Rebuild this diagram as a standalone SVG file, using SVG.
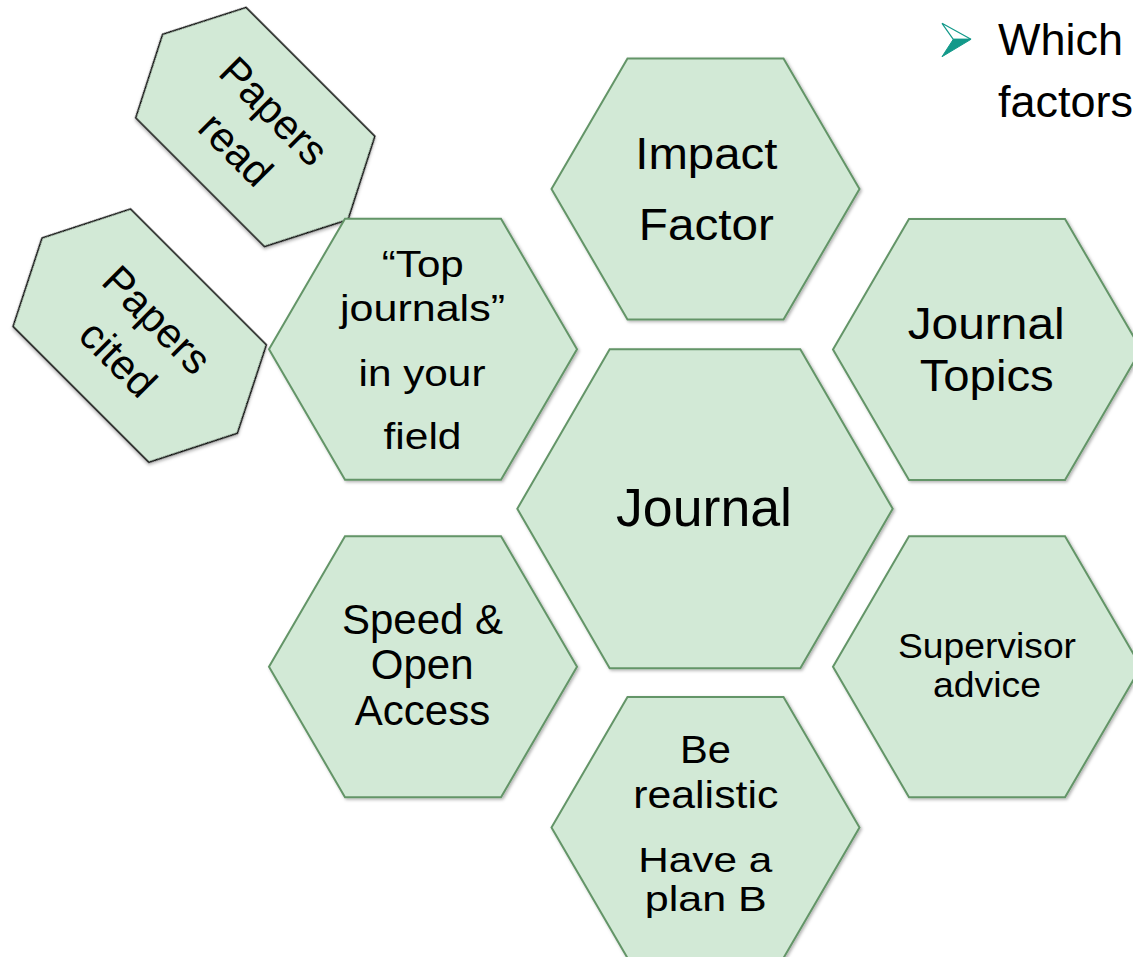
<svg xmlns="http://www.w3.org/2000/svg" width="1133" height="957" viewBox="0 0 1133 957">
  <defs>
    <filter id="sh" x="-10%" y="-10%" width="120%" height="120%">
      <feDropShadow dx="1.5" dy="1.5" stdDeviation="1.5" flood-color="#000" flood-opacity="0.3"/>
    </filter>
  </defs>
  <style>
    .hex { fill: #D2E9D6; stroke: #649568; stroke-width: 2; filter: url(#sh); }
    .ph { fill: #D2E9D6; stroke: #000; stroke-width: 1.6; filter: url(#sh); }
    .t { font-family: "Liberation Sans", Arial, sans-serif; fill: #000; text-anchor: middle; }
    .bul { font-family: "Liberation Sans", Arial, sans-serif; fill: #000; font-size: 45px; }
  </style>
  <rect width="1133" height="957" fill="#fff"/>

  <g id="connectors"/>

  <g id="papers-read">
    <g transform="translate(255.3,127) rotate(45)">
      <polygon class="ph" points="-91,-78 91,-78 131,0 91,78 -91,78 -131,0"/>
      <text class="t" font-size="42" x="2" y="-10">Papers</text>
      <text class="t" font-size="42" x="2" y="44">read</text>
    </g>
  </g>

  <g id="papers-cited">
    <g transform="translate(139.7,335.6) rotate(45)">
      <polygon class="ph" points="-96,-83 96,-83 138,0 96,83 -96,83 -138,0"/>
      <text class="t" font-size="42" x="1" y="-9">Papers</text>
      <text class="t" font-size="42" x="1" y="46">cited</text>
    </g>
  </g>

  <g id="impact-factor">
    <polygon class="hex" points="627.5,58.5 783.5,58.5 859.5,189 783.5,319.5 627.5,319.5 551.5,189"/>
    <text class="t" font-size="45" x="706.3" y="169" textLength="142" lengthAdjust="spacingAndGlyphs">Impact</text>
    <text class="t" font-size="45" x="706.3" y="240" textLength="135" lengthAdjust="spacingAndGlyphs">Factor</text>
  </g>

  <g id="top-journals">
    <polygon class="hex" points="345,218.7 501,218.7 577,349.2 501,479.7 345,479.7 269,349.2"/>
    <text class="t" font-size="37" x="422.8" y="276.5" textLength="82" lengthAdjust="spacingAndGlyphs">“Top</text>
    <text class="t" font-size="37" x="422.5" y="321" textLength="165" lengthAdjust="spacingAndGlyphs">journals”</text>
    <text class="t" font-size="37" x="422" y="385.7" textLength="127" lengthAdjust="spacingAndGlyphs">in your</text>
    <text class="t" font-size="37" x="422.5" y="449.3" textLength="78" lengthAdjust="spacingAndGlyphs">field</text>
  </g>

  <g id="journal-topics">
    <polygon class="hex" points="909,219 1065,219 1141,349.5 1065,480 909,480 833,349.5"/>
    <text class="t" font-size="45" x="986.2" y="339.3" textLength="157" lengthAdjust="spacingAndGlyphs">Journal</text>
    <text class="t" font-size="45" x="986.7" y="391" textLength="134" lengthAdjust="spacingAndGlyphs">Topics</text>
  </g>

  <g id="journal">
    <polygon class="hex" points="609.7,349.3 800.3,349.3 892.7,508.8 800.3,668.3 609.7,668.3 517.3,508.8"/>
    <text class="t" font-size="54" x="704" y="525.7" textLength="176" lengthAdjust="spacingAndGlyphs">Journal</text>
  </g>

  <g id="speed-open-access">
    <polygon class="hex" points="345,536.2 501,536.2 577,666.7 501,797.2 345,797.2 269,666.7"/>
    <text class="t" font-size="42" x="422.5" y="634.3">Speed &amp;</text>
    <text class="t" font-size="42" x="422.2" y="679.3">Open</text>
    <text class="t" font-size="42" x="422.5" y="725">Access</text>
  </g>

  <g id="supervisor-advice">
    <polygon class="hex" points="909,536.3 1065,536.3 1141,666.8 1065,797.3 909,797.3 833,666.8"/>
    <text class="t" font-size="35" x="987" y="657.7" textLength="178" lengthAdjust="spacingAndGlyphs">Supervisor</text>
    <text class="t" font-size="35" x="987" y="696.7" textLength="108" lengthAdjust="spacingAndGlyphs">advice</text>
  </g>

  <g id="be-realistic">
    <polygon class="hex" points="627.5,697 783.5,697 859.5,827.5 783.5,958 627.5,958 551.5,827.5"/>
    <text class="t" font-size="38" x="705.5" y="762.7" textLength="51" lengthAdjust="spacingAndGlyphs">Be</text>
    <text class="t" font-size="38" x="705.8" y="808.3" textLength="145" lengthAdjust="spacingAndGlyphs">realistic</text>
    <text class="t" font-size="35" x="705.3" y="871.5" textLength="134" lengthAdjust="spacingAndGlyphs">Have a</text>
    <text class="t" font-size="35" x="705.8" y="911" textLength="122" lengthAdjust="spacingAndGlyphs">plan B</text>
  </g>

  <g id="question">
    <polygon points="942,23.3 971,39.3 953.3,39.3" fill="#fff" stroke="#12998A" stroke-width="1.2" stroke-linejoin="miter"/>
    <polygon points="953.3,39.3 971,39.3 942,56.7" fill="#12998A" stroke="#12998A" stroke-width="1"/>
    <text class="bul" x="998" y="55">Which</text>
    <text class="bul" x="998" y="117">factors</text>
  </g>
</svg>
